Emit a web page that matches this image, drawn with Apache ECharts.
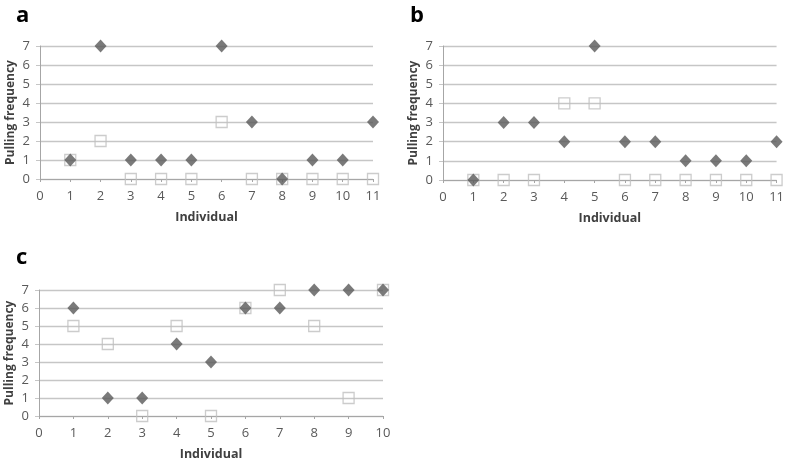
<!DOCTYPE html>
<html><head><meta charset="utf-8">
<script src="https://cdn.jsdelivr.net/npm/echarts@6/dist/echarts.min.js"></script>
<style>html,body{margin:0;padding:0;background:#fff}#c{width:787px;height:463px}</style>
</head><body><div id="c"></div>
<script>
const xA = [1,2,3,4,5,6,7,8,9,10,11];
const aDiamond = [1,7,1,1,1,7,3,0,1,1,3];
const aSquare  = [1,2,0,0,0,3,0,0,0,0,0];
const xB = [1,2,3,4,5,6,7,8,9,10,11];
const bDiamond = [0,3,3,2,7,2,2,1,1,1,2];
const bSquare  = [0,0,0,4,4,0,0,0,0,0,0];
const xC = [1,2,3,4,5,6,7,8,9,10];
const cDiamond = [6,1,1,4,3,6,6,7,7,7];
const cSquare  = [5,4,0,5,0,6,7,5,1,7];
const panelLabels = ['a','b','c'];
const xTitle = 'Individual';
const yTitle = 'Pulling frequency';

const pair = (xs, ys) => xs.map((x,i)=>[x, ys[i]]);
const font = 'Open Sans, Liberation Sans, sans-serif';
const grids = [
  {left:40, right:414, top:46, bottom:284},
  {left:443, right:8, top:46, bottom:283},
  {left:39, right:404, top:290, bottom:47}
];
const xMax = [11, 11, 10];
const xAxes = grids.map((g,i)=>({
  type:'value', gridIndex:i, min:0, max:xMax[i], interval:1,
  splitLine:{show:false},
  axisLine:{lineStyle:{color:'#a6a6a6', width:1}},
  axisTick:{show:true, inside:false, length:3, lineStyle:{color:'#a6a6a6'}},
  axisLabel:{color:'#595959', fontSize:13, fontFamily:font, margin:11},
  name:xTitle, nameLocation:'middle', nameGap:32,
  nameTextStyle:{color:'#404040', fontSize:12.5, fontWeight:'bold', fontFamily:font}
}));
const yAxes = grids.map((g,i)=>({
  type:'value', gridIndex:i, min:0, max:7, interval:1,
  splitLine:{show:true, lineStyle:{color:'#c6c6c6', width:1.3}},
  axisLine:{show:true, lineStyle:{color:'#a6a6a6', width:1}},
  axisTick:{show:true, length:4, lineStyle:{color:'#c6c6c6'}},
  axisLabel:{color:'#595959', fontSize:13, fontFamily:font, margin:10},
  name:yTitle, nameLocation:'middle', nameGap:23,
  nameTextStyle:{color:'#404040', fontSize:12, fontWeight:'bold', fontFamily:font}
}));
const sqStyle = {color:'rgba(255,255,255,0)', borderColor:'#bfbfbf', borderWidth:1.3};
const dmStyle = {color:'#595959'};
const data = [[xA,aSquare,aDiamond],[xB,bSquare,bDiamond],[xC,cSquare,cDiamond]];
const series = [];
data.forEach((d,i)=>{
  series.push({type:'scatter', xAxisIndex:i, yAxisIndex:i, data:pair(d[0],d[1]),
    symbol:'rect', symbolSize:11, itemStyle:sqStyle, clip:false, z:3});
  series.push({type:'scatter', xAxisIndex:i, yAxisIndex:i, data:pair(d[0],d[2]),
    symbol:'diamond', symbolSize:[12,13], itemStyle:dmStyle, clip:false, z:4});
});
const titles = [
  {text:panelLabels[0], left:11, top:0},
  {text:panelLabels[1], left:405, top:0},
  {text:panelLabels[2], left:11, top:242}
].map(t=>Object.assign(t,{textStyle:{fontSize:22, fontWeight:'bold', color:'#000', fontFamily:font}}));
const chart = echarts.init(document.getElementById('c'), null, {renderer:'canvas'});
chart.setOption({
  animation:false, backgroundColor:'#fff',
  title:titles, grid:grids, xAxis:xAxes, yAxis:yAxes, series:series
});
</script></body></html>
